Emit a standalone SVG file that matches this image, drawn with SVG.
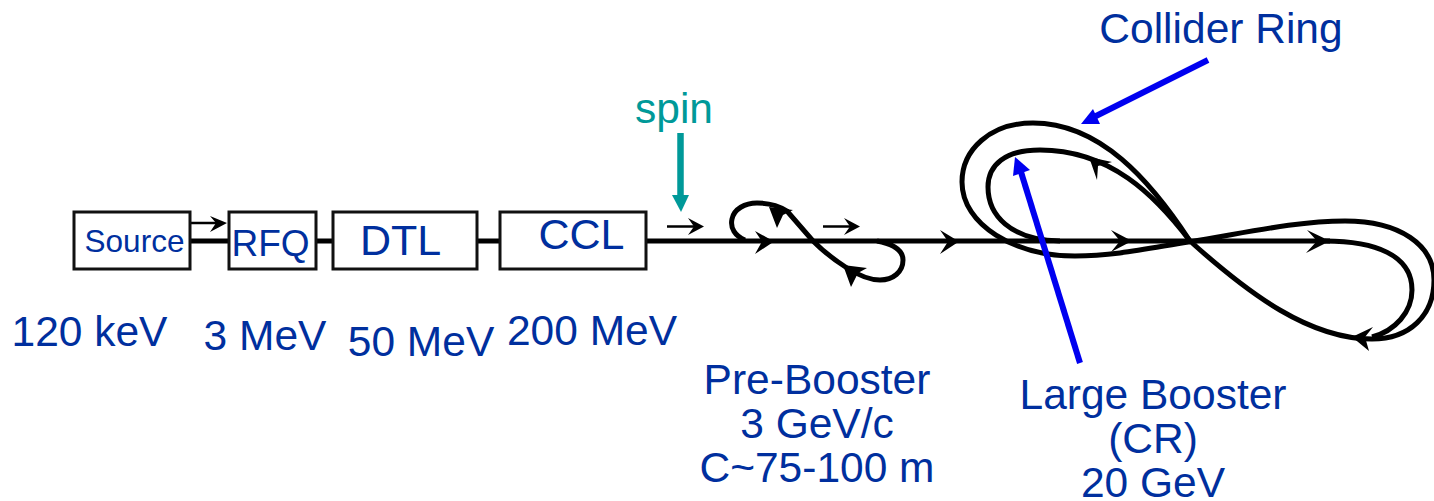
<svg xmlns="http://www.w3.org/2000/svg" width="1434" height="501" viewBox="0 0 1434 501">
<style>
text{font-family:"Liberation Sans",Arial,sans-serif;fill:#002f9e}
.l{text-anchor:middle;font-size:42.500px}
.box{fill:#fff;stroke:#111;stroke-width:3}
.beam{fill:none;stroke:#000;stroke-width:5}
.thin{fill:none;stroke:#000;stroke-width:2.500}
.head{fill:#000}
.blue{stroke:#0000f0;stroke-width:6;fill:none}
.bh{fill:#0000f0}
</style>
<rect width="1434" height="501" fill="#fff"/>
<g id="connectors">
<path class="beam" d="M190 241H229M316 241H333M477 241H500M646 241H1330"/>
<path class="thin" d="M190 223H222M667 226.500H696M823 226.500H852"/>
<path class="beam" d="M745 240C735 236 730 228 732 219C734 209 745 203 757 203C768 203 779 206 787 211L813 241C825 253 836 261 847 268C858 275 869 280 880 280C893 280 903 272 903 260C903 250 893 244 877 241"/>
<path class="beam" d="M1190 241C1150 180 1100 123 1033 123C990 123 962 150 962 182C962 225 1015 256 1075 256C1115 256 1150 248 1190 241.700C1240 234 1295 221 1345 221C1400 221 1434 245 1434 280C1434 315 1410 339 1372 339C1310 339 1250 295 1190 241"/>
<path class="beam" d="M1190 241C1155 195 1110 150 1040 150C1005 150 988 165 988 187C988 215 1010 240 1060 241M1325 241C1375 241 1412 255 1412 290C1412 312 1395 331 1372 337"/>
<path class="head" d="M774 241.500L755 231L762 241.500L755 254Z"/>
<path class="head" d="M769 207L793 210L783 215L777 228Z"/>
<path class="head" d="M843 265L867 268L858 273L851 287Z"/>
<path class="head" d="M959 241.500L940 230L948 241.500L940 254Z"/>
<path class="head" d="M1089 157L1112 162L1098 166L1097 180Z"/>
<path class="head" d="M1132 241L1111 230L1120 241L1111 252Z"/>
<path class="head" d="M1330 241L1307 230L1317 241L1306 253Z"/>
<path class="head" d="M1352 337L1373 327L1365 337L1369 351Z"/>
<path class="head" d="M227 223L210 216L216 223L210 232Z"/>
<path class="head" d="M704 226.500L688 218L694 226.500L688 235Z"/>
<path class="head" d="M860 226.500L844 218L850 226.500L844 235Z"/>
<path class="blue" d="M1208 60L1092 118"/>
<path class="bh" d="M1081 124L1093 109L1100 124Z"/>
<path class="blue" d="M1080 363L1021 172"/>
<path class="bh" d="M1015 157L1030 170L1013 176Z"/>
<path d="M680.500 133V197" fill="none" stroke="#009999" stroke-width="6.500"/>
<path d="M681 212L672 195H689Z" fill="#009999"/>
</g>
<g id="source"><rect class="box" x="74" y="212" width="116" height="57"/><text x="134.500" y="252" text-anchor="middle" font-size="31.500">Source</text></g>
<g id="rfq"><rect class="box" x="229" y="212" width="87" height="57"/><text x="270.500" y="256" text-anchor="middle" font-size="37">RFQ</text></g>
<g id="dtl"><rect class="box" x="333" y="212" width="144" height="57"/><text x="400.500" y="255" text-anchor="middle" font-size="43">DTL</text></g>
<g id="ccl"><rect class="box" x="500" y="212" width="146" height="57"/><text x="581.500" y="249" text-anchor="middle" font-size="43">CCL</text></g>
<g id="energies">
<text class="l" x="89.500" y="346">120 keV</text>
<text class="l" x="265" y="350">3 MeV</text>
<text class="l" x="421" y="356">50 MeV</text>
<text class="l" x="592" y="345">200 MeV</text>
</g>
<text x="674" y="123" text-anchor="middle" font-size="42.500" style="fill:#009999">spin</text>
<g id="pre-booster"><text class="l" x="817" y="394">Pre-Booster</text><text class="l" x="817" y="438">3 GeV/c</text><text class="l" x="817" y="482">C~75-100 m</text></g>
<g id="large-booster"><text class="l" x="1153" y="409">Large Booster</text><text class="l" x="1153" y="453">(CR)</text><text class="l" x="1153" y="497">20 GeV</text></g>
<g id="collider-ring"><text class="l" x="1221" y="43">Collider Ring</text></g>
</svg>
